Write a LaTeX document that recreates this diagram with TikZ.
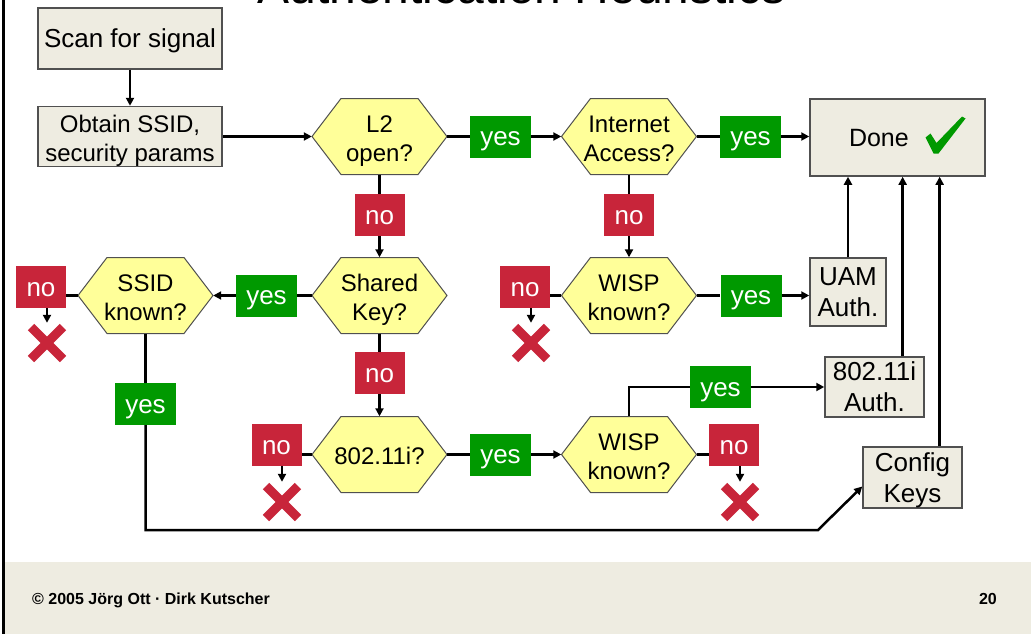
\documentclass[tikz,border=0pt]{standalone}
\usepackage{fontspec}
\setmainfont{Liberation Sans}
\usetikzlibrary{arrows.meta,calc}

\definecolor{tan}{RGB}{238,236,225}
\definecolor{hexyellow}{RGB}{255,255,153}
\definecolor{okgreen}{RGB}{0,153,0}
\definecolor{nored}{RGB}{200,37,58}
\definecolor{edgegray}{RGB}{80,80,80}

% text with a fixed ascent on its first line and a fixed descent on its last
\newcommand{\lineset}[3]{\rule{0pt}{#1}#3\rule[-#2]{0pt}{0pt}}
\newcommand{\smalllines}[1]{\lineset{25.2pt}{5.1pt}{#1}}
\newcommand{\biglines}[1]{\lineset{23.5pt}{5.5pt}{#1}}

% decision hexagon: name, centre, text
\newcommand{\decision}[3]{%
  \path[hexshape, shift={(#2)}] (-67.5,0) -- (-38.5,-38) -- (38.5,-38) -- (67.5,0)
      -- (38.5,38) -- (-38.5,38) -- cycle;
  \node[hextext] (#1) at (#2) {\smalllines{#3}};
}

\tikzset{
  bigtext/.style={font=\fontsize{26}{31}\selectfont},
  smalltext/.style={font=\fontsize{24}{29}\selectfont},
  hexshape/.style={fill=hexyellow, draw=edgegray, line width=1pt, line join=miter},
  hextext/.style={smalltext, minimum width=135pt, minimum height=76pt, inner sep=0pt,
    align=center},
  stepbox/.style={fill=tan, draw=edgegray, line width=1.5pt, inner sep=0pt, align=center},
  yeslabel/.style={bigtext, fill=okgreen, text=white, minimum width=61pt, minimum height=42pt,
    inner sep=0pt},
  nolabel/.style={bigtext, fill=nored, text=white, minimum width=50pt, minimum height=42pt,
    inner sep=0pt},
  conn/.style={line width=2.5pt, black, line join=miter},
  arr/.style={conn, -{Triangle[length=8pt,width=8pt]}},
  xmark/.style={minimum size=40pt, inner sep=0pt, path picture={
    \draw[nored, line width=9pt]
      ([shift={(4,4)}]path picture bounding box.north west) --
      ([shift={(-4,-4)}]path picture bounding box.south east);
    \draw[nored, line width=9pt]
      ([shift={(-4,4)}]path picture bounding box.north east) --
      ([shift={(4,-4)}]path picture bounding box.south west);}},
}

\begin{document}
\begin{tikzpicture}[x=1pt, y=-1pt]
  \useasboundingbox (0,0) rectangle (1031,634);
  \fill[white] (0,0) rectangle (1031,634);
  \clip (0,0) rectangle (1031,634);

  % slide frame: footer band and left rule
  \fill[tan] (5,562) rectangle (1031,634);
  \draw[line width=3pt] (3.8,0) -- (3.8,634);
  \node[anchor=base, inner sep=0pt, font=\fontsize{48}{56}\selectfont] (title)
    at (521.5,4) {Authentication Heuristics};
  \node[anchor=base west, inner sep=0pt, font=\bfseries\fontsize{16}{19}\selectfont] (copyright)
    at (32,604) {© 2005 Jörg Ott · Dirk Kutscher};
  \node[anchor=base east, inner sep=0pt, font=\bfseries\fontsize{16}{19}\selectfont] (pagenum)
    at (997,604) {20};

  % process boxes
  \node[stepbox, bigtext, minimum width=184pt, minimum height=61pt] (scan) at (130,38.5)
    {\biglines{Scan for signal}};
  \node[stepbox, smalltext, minimum width=184pt, minimum height=60pt]
    (obtain) at (130,136.5) {\smalllines{Obtain SSID,\\security params}};
  \node[stepbox, font=\fontsize{25}{30}\selectfont, minimum width=175pt, minimum height=77pt]
    (done) at (897.5,137.5) {\lineset{22.6pt}{5.3pt}{\makebox[97pt][l]{Done}}};
  \fill[okgreen, shift={(done.center)}] (28,0) -- (33,-4) -- (39,5.5) -- (64.5,-21)
    -- (68,-19) -- (41,16) -- (36,16) -- cycle;
  \node[stepbox, bigtext, minimum width=76pt, minimum height=68pt] (uam) at (848,292)
    {\biglines{UAM\\Auth.}};
  \node[stepbox, bigtext, minimum width=99pt, minimum height=60pt] (auth) at (874.5,387)
    {\biglines{802.11i\\Auth.}};
  \node[stepbox, bigtext, minimum width=99pt, minimum height=61pt] (cfg) at (912.5,477.5)
    {\biglines{Config\\Keys}};

  % decisions
  \decision{l2}{379.5,136.5}{L2\\open?}
  \decision{inet}{629,136.5}{Internet\\Access?}
  \decision{ssid}{145.5,295.5}{SSID\\known?}
  \decision{sk}{379.5,295.5}{Shared\\Key?}
  \decision{wispa}{629,295.5}{WISP\\known?}
  \decision{dot}{379.5,454.5}{802.11i?}
  \decision{wispb}{629,454.5}{WISP\\known?}

  % branch labels
  \node[yeslabel] (yesA) at (500.5,136.5) {\biglines{yes}};
  \node[yeslabel] (yesB) at (750.5,136.5) {\biglines{yes}};
  \node[nolabel] (noL) at (379.5,215) {\biglines{no}};
  \node[nolabel] (noI) at (629,215) {\biglines{no}};
  \node[yeslabel] (yesSK) at (266.5,295.5) {\biglines{yes}};
  \node[nolabel] (noS) at (41,287) {\biglines{no}};
  \node[nolabel] (noWa) at (525,287) {\biglines{no}};
  \node[yeslabel] (yesWa) at (751,295.5) {\biglines{yes}};
  \node[nolabel] (noSK) at (379.5,373) {\biglines{no}};
  \node[yeslabel] (yesS) at (145.5,404) {\biglines{yes}};
  \node[nolabel] (noD) at (276.5,445) {\biglines{no}};
  \node[yeslabel] (yesD) at (500.5,454.5) {\biglines{yes}};
  \node[nolabel] (noWb) at (734,445) {\biglines{no}};
  \node[yeslabel] (yesWb) at (720.5,387) {\biglines{yes}};

  % failure marks
  \node[xmark] (xS) at (47,343) {};
  \node[xmark] (xWa) at (531,343) {};
  \node[xmark] (xD) at (282,502) {};
  \node[xmark] (xWb) at (740,502) {};

  % helper points
  \coordinate (turn) at (818,530);
  \coordinate (cfgin) at ($(cfg.west)+(0,9)$);
  \coordinate (authout) at ($(auth.north west)!.78!(auth.north east)$);
  \coordinate (cfgout) at ($(cfg.north west)!.77!(cfg.north east)$);

  % connectors
  \draw[arr] (scan) -- (obtain);
  \draw[arr] (obtain.east) -- (l2.west);
  \draw[conn] (l2.east) -- (yesA.west);
  \draw[arr] (yesA.east) -- (inet.west);
  \draw[conn] (inet.east) -- (yesB.west);
  \draw[arr] (yesB.east) -- (yesB.east -| done.west);
  \draw[conn] (l2.south) -- (noL.north);
  \draw[arr] (noL.south) -- (sk.north);
  \draw[conn] (inet.south) -- (noI.north);
  \draw[arr] (noI.south) -- (wispa.north);
  \draw[conn] (sk.west) -- (yesSK.east);
  \draw[arr] (yesSK.west) -- (ssid.east);
  \draw[conn] (ssid.west) -- (ssid.west -| noS.east);
  \draw[arr] (noS.south -| xS.north) -- (xS.north);
  \draw[conn] (wispa.west) -- (wispa.west -| noWa.east);
  \draw[arr] (noWa.south -| xWa.north) -- (xWa.north);
  \draw[conn] (wispa.east) -- (yesWa.west);
  \draw[arr] (yesWa.east) -- (yesWa.east -| uam.west);
  \draw[conn] (sk.south) -- (noSK.north);
  \draw[arr] (noSK.south) -- (dot.north);
  \draw[conn] (ssid.south) -- (yesS.north);
  \draw[arr] (yesS.south) |- (turn) -- (cfgin);
  \draw[conn] (dot.west) -- (dot.west -| noD.east);
  \draw[arr] (noD.south -| xD.north) -- (xD.north);
  \draw[conn] (dot.east) -- (yesD.west);
  \draw[arr] (yesD.east) -- (wispb.west);
  \draw[conn] (wispb.east) -- (wispb.east -| noWb.west);
  \draw[arr] (noWb.south -| xWb.north) -- (xWb.north);
  \draw[conn] (wispb.north) |- (yesWb.west);
  \draw[arr] (yesWb.east) -- (yesWb.east -| auth.west);
  \draw[arr] (uam.north) -- (uam.north |- done.south);
  \draw[arr] (authout) -- (authout |- done.south);
  \draw[arr] (cfgout) -- (cfgout |- done.south);
\end{tikzpicture}
\end{document}
